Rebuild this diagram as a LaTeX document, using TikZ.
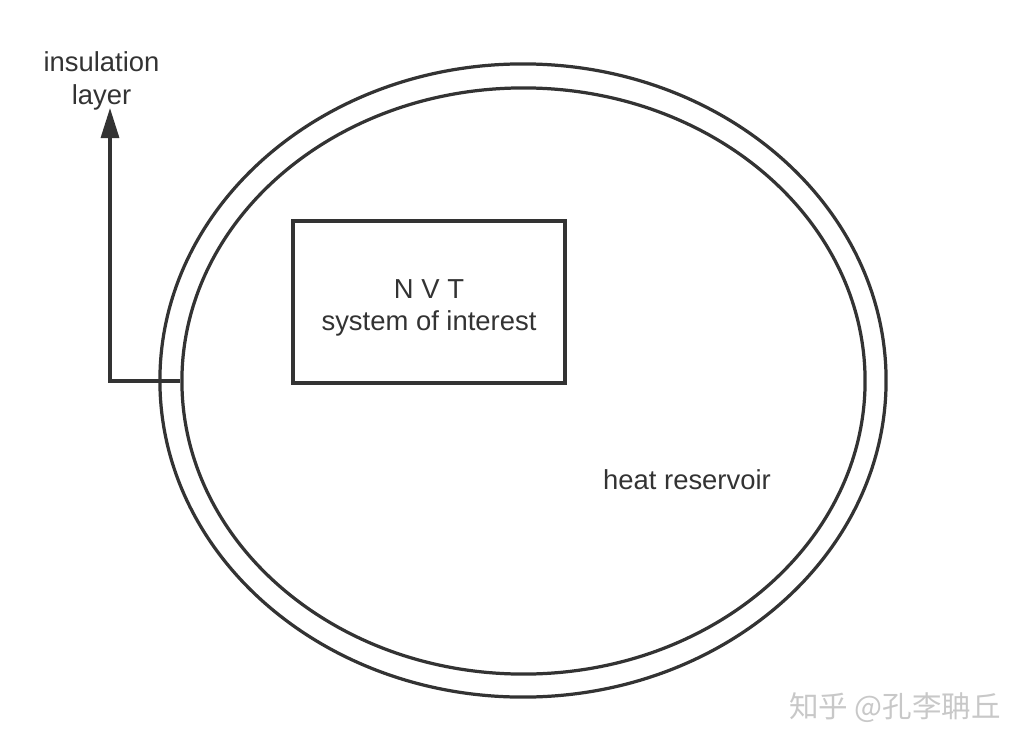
\documentclass[tikz,border=0pt]{standalone}
\usepackage{fontspec}
\setmainfont{Liberation Sans}
\newfontfamily\cjkfont{Noto Sans CJK SC}
\usepackage{tikz}
\usetikzlibrary{arrows.meta,positioning,shapes.geometric}
\usepackage{xcolor}
\definecolor{linegray}{HTML}{333333}
\definecolor{markgray}{HTML}{C8C8C8}
\newcommand{\labelfont}{\fontsize{19.5}{23}\selectfont}

\begin{document}
\begin{tikzpicture}[x=0.025cm,y=-0.025cm,
    wall/.style={draw=linegray,line width=2.3pt,ellipse,inner sep=0pt},
    label/.style={text=linegray,font=\labelfont,align=center,inner sep=0pt}]
    \useasboundingbox (0,0) rectangle (1034,750);
    % the two walls of the reservoir
    \node[wall,minimum width=18.15cm,minimum height=15.825cm] (outer) at (523,380.5) {};
    \node[wall,minimum width=17.075cm,minimum height=14.65cm] (inner) at (523.5,381) {};
    % the system
    \node[draw=linegray,line width=2.3pt,minimum width=6.8cm,minimum height=4.05cm]
        (sys) at (429,302) {};
    \node[label] (nvt) at ([yshift=-0.15cm]sys.center) {N V T\\system of interest};
    \node[label] (res) at (687,480) {heat reservoir};
    % pointer to the insulation
    \node[label] (ins) at (101.5,81) {insulation\\layer};
    \coordinate (tip) at (110,108);
    \draw[linegray,line width=2.3pt,-{Triangle[length=0.75cm,width=0.45cm]}]
        (inner.west) -| (tip);
    \node[text=markgray,font=\cjkfont\fontsize{21}{25}\selectfont,inner sep=0pt]
        (mark) at (895,708) {知乎 @孔李聃丘};
\end{tikzpicture}
\end{document}
